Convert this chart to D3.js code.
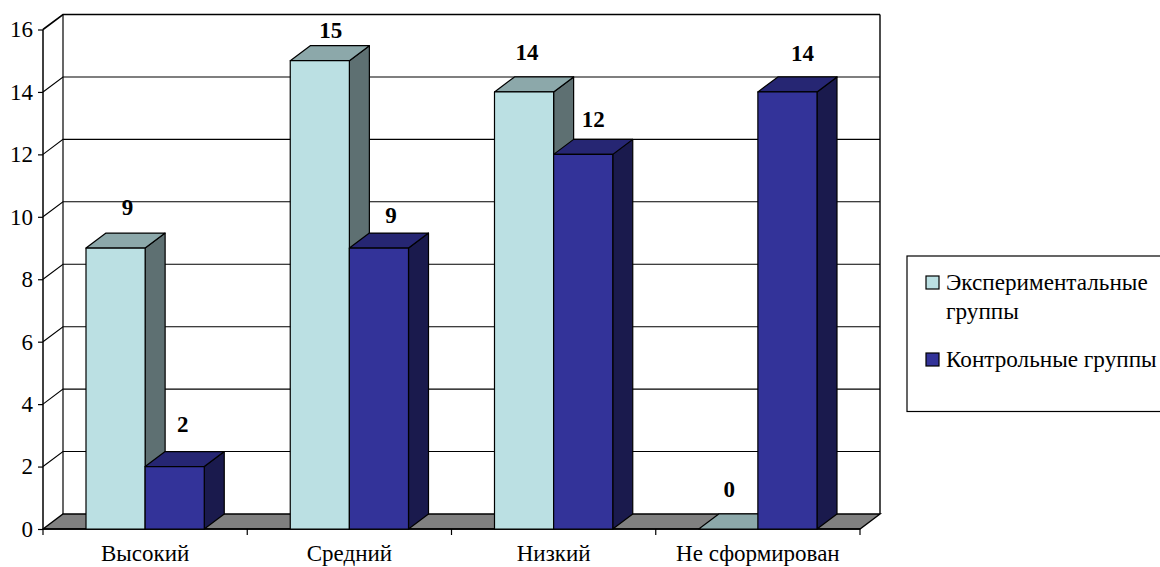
<!DOCTYPE html>
<html lang="ru">
<head>
<meta charset="utf-8">
<title>Уровни сформированности</title>
<script src="https://cdn.jsdelivr.net/npm/d3@7/dist/d3.min.js"></script>
<style>
  html, body { margin: 0; padding: 0; background: #fff; overflow: hidden; }
  svg { display: block; }
</style>
</head>
<body>
<svg id="chart" width="1160" height="567"></svg>
<script>
// Chart data
const categories = ["Высокий", "Средний", "Низкий", "Не сформирован"];
const seriesNames = ["Экспериментальные группы", "Контрольные группы"];
const experimental = [9, 15, 14, 0];
const control = [2, 9, 12, 14];
const yTicks = [0, 2, 4, 6, 8, 10, 12, 14, 16];

// Layout: front plane of the plot and the depth offset of the 3D box
const plot = { left: 43, right: 860, top: 29.5, bottom: 529 };
const depth = { x: 20, y: -15 };
const groupPad = 43;
const fontSize = 23;

// Hand-placed data labels: shift from the front-top centre of each bar
const labelShift = [
  [[12, -41], [11, -30], [3, -40], [1, -40]],
  [[8, -42], [12, -33], [10, -35], [15, -39]]
];

const colors = [
  { front: "#BBE0E3", top: "#8CA8AA", side: "#5E7072" },
  { front: "#333399", top: "#262673", side: "#1A1A4D" }
];

const svg = d3.select("#chart");
const y = d3.scaleLinear().domain([0, 16]).range([plot.bottom, plot.top]);
const x0 = d3.scaleBand().domain(categories).range([plot.left, plot.right]);
const x1 = d3.scaleBand().domain(d3.range(seriesNames.length))
  .range([groupPad, x0.bandwidth() - groupPad]);

const poly = pts => pts.map(p => p.join(",")).join(" ");

// Floor of the 3D box
svg.append("polygon")
  .attr("points", poly([
    [plot.left, plot.bottom], [plot.right, plot.bottom],
    [plot.right + depth.x, plot.bottom + depth.y],
    [plot.left + depth.x, plot.bottom + depth.y]
  ]))
  .attr("fill", "#808080").attr("stroke", "#000").attr("stroke-width", 1.4);

// Gridlines along the side wall and the back wall
const grid = svg.append("g").attr("fill", "none").attr("stroke", "#000");
yTicks.forEach(t => {
  const top = t === yTicks[yTicks.length - 1];
  if (t === 0) return;
  grid.append("path")
    .attr("d", `M${plot.left},${y(t)}L${plot.left + depth.x},${y(t) + depth.y}L${plot.right + depth.x},${y(t) + depth.y}`)
    .attr("stroke-width", top ? 1.6 : 1.1);
});

// Back wall verticals
grid.append("line")
  .attr("x1", plot.left + depth.x).attr("x2", plot.left + depth.x)
  .attr("y1", y(16) + depth.y).attr("y2", y(0) + depth.y).attr("stroke-width", 1.2);
grid.append("line")
  .attr("x1", plot.right + depth.x).attr("x2", plot.right + depth.x)
  .attr("y1", y(16) + depth.y).attr("y2", y(0) + depth.y).attr("stroke-width", 1.4);

// Value axis
const yAxis = svg.append("g")
  .attr("transform", `translate(${plot.left},0)`)
  .call(d3.axisLeft(y).tickValues(yTicks).tickSize(5).tickPadding(5).tickFormat(d3.format("d")));
yAxis.selectAll("text").attr("font-size", fontSize);
yAxis.selectAll("line").attr("stroke", "#000").attr("stroke-width", 1.2);
yAxis.select(".domain").attr("stroke", "#000").attr("stroke-width", 1.5).attr("d", `M0,${y(16)}V${y(0)}`);

// Category axis: labels centred in the bands, ticks on the band edges
const xAxis = svg.append("g")
  .attr("transform", `translate(0,${plot.bottom})`)
  .call(d3.axisBottom(x0).tickSize(0).tickPadding(16));
xAxis.selectAll("text").attr("font-size", fontSize);
xAxis.select(".domain").attr("stroke", "#000").attr("stroke-width", 1.5)
  .attr("d", `M${plot.left},0H${plot.right}`);
xAxis.selectAll(".edge")
  .data(d3.range(categories.length + 1))
  .join("line")
  .attr("class", "edge")
  .attr("x1", i => plot.left + i * x0.step())
  .attr("x2", i => plot.left + i * x0.step())
  .attr("y1", 0).attr("y2", 6)
  .attr("stroke", "#000").attr("stroke-width", 1.2);

// Bars as three-faced prisms, left series first within each group
const seriesValues = [experimental, control];
const bars = svg.append("g").attr("stroke", "#000").attr("stroke-width", 1.2).attr("stroke-linejoin", "round");
categories.forEach((cat, c) => {
  seriesValues.forEach((vals, s) => {
    const xa = x0(cat) + x1(s);
    const xb = xa + x1.bandwidth();
    const yt = y(vals[c]);
    const yb = y(0);
    const col = colors[s];
    bars.append("polygon")
      .attr("fill", col.side)
      .attr("points", poly([[xb, yb], [xb + depth.x, yb + depth.y], [xb + depth.x, yt + depth.y], [xb, yt]]));
    bars.append("polygon")
      .attr("fill", col.top)
      .attr("points", poly([[xa, yt], [xb, yt], [xb + depth.x, yt + depth.y], [xa + depth.x, yt + depth.y]]));
    if (vals[c] > 0) {
      bars.append("rect")
        .attr("x", xa).attr("y", yt)
        .attr("width", x1.bandwidth()).attr("height", yb - yt)
        .attr("fill", col.front);
    }
  });
});

// Bar value labels
const labels = svg.append("g")
  .attr("font-size", fontSize).attr("font-weight", "bold").attr("text-anchor", "middle");
seriesValues.forEach((vals, s) => {
  vals.forEach((v, c) => {
    const [dx, dy] = labelShift[s][c];
    labels.append("text")
      .attr("x", x0(categories[c]) + x1(s) + x1.bandwidth() / 2 + dx)
      .attr("y", y(v) + dy)
      .attr("dy", "0.33em")
      .text(v);
  });
});

// Legend
const legend = svg.append("g");
legend.append("rect")
  .attr("x", 907).attr("y", 256).attr("width", 260).attr("height", 155.5)
  .attr("fill", "#fff").attr("stroke", "#000").attr("stroke-width", 1.2);
const legendRows = [
  { lines: ["Экспериментальные", "группы"], y: 283 },
  { lines: ["Контрольные группы"], y: 360 }
];
legendRows.forEach((row, i) => {
  legend.append("rect")
    .attr("x", 926).attr("y", row.y - 7).attr("width", 13).attr("height", 13)
    .attr("fill", colors[i].front).attr("stroke", "#000").attr("stroke-width", 1.2);
  row.lines.forEach((line, j) => {
    legend.append("text")
      .attr("x", 946).attr("y", row.y + j * 29)
      .attr("dy", "0.3em").attr("font-size", 23.2)
      .text(line);
  });
});

// One typeface for every label on the chart
svg.selectAll("text")
  .style("font-family", '"Liberation Serif"')
  .style("fill", "#000");
</script>
</body>
</html>
